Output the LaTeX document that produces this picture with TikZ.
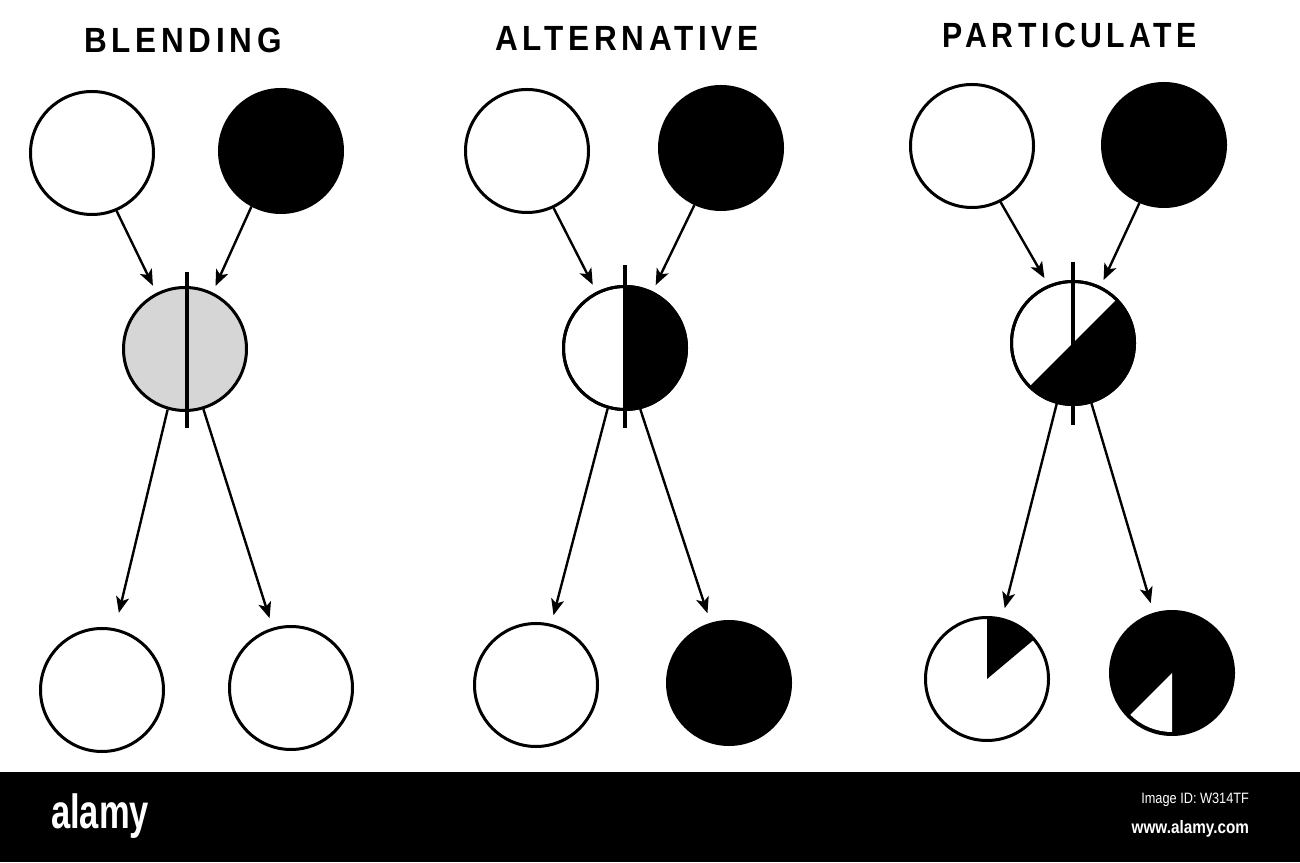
\documentclass[tikz,border=0pt]{standalone}
\usepackage{fontspec}
\usetikzlibrary{arrows.meta,calc}
\newfontfamily\titlefont[LetterSpace=15]{Liberation Sans}
\newfontfamily\wmfont{Liberation Sans}
\begin{document}
\begin{tikzpicture}[x=1pt,y=1pt,
  disc/.style={circle,draw=black,line width=3pt,minimum size=123pt,inner sep=0pt,fill=white},
  bdisc/.style={disc,fill=black},
  gdisc/.style={disc,fill=black!16},
  arr/.style={line width=2.4pt,-{Stealth[length=16pt,width=13pt,inset=4pt]}},
  vline/.style={line width=3.5pt},
  ttl/.style={font=\titlefont\bfseries\fontsize{35}{40}\selectfont,xscale=0.9},
]
\useasboundingbox (0,0) rectangle (1300,862);
\fill[white] (0,0) rectangle (1300,862);

% titles
\node[ttl] (t1) at (183,822) {BLENDING};
\node[ttl] (t2) at (627,824) {ALTERNATIVE};
\node[ttl,xscale=0.96] (t3) at (1070,827) {PARTICULATE};

% ---------- BLENDING ----------
\node[disc]  (btl) at (92,709) {};
\node[bdisc] (btr) at (281,711) {};
\node[gdisc] (bmid) at (185,513) {};
\node[disc]  (bbl) at (102,172) {};
\node[disc]  (bbr) at (291,174) {};
\draw[vline] ($(bmid.center)+(2,77)$) -- ($(bmid.center)+(2,-79)$);
\draw[arr,shorten >=8pt] (btl.-67) -- (bmid.117);
\draw[arr,shorten >=7pt] (btr.-118) -- (bmid.64);
\draw[arr,shorten >=16pt] (bmid.-106) -- (bbl.78);
\draw[arr,shorten >=10pt] (bmid.-73) -- (bbr.107);

% ---------- ALTERNATIVE ----------
\node[disc]  (atl) at (527,711) {};
\node[bdisc] (atr) at (721,714) {};
\node[disc]  (amid) at (625,514) {};
\node[disc]  (abl) at (536,177) {};
\node[bdisc] (abr) at (729,179) {};
\fill (amid.center) -- ++(0,61.5) arc[start angle=90,end angle=-90,radius=61.5] -- cycle;
\draw[line width=3pt] (amid.center) circle[radius=61.5];
\draw[vline] ($(amid.center)+(0,83)$) -- ($(amid.center)+(0,-80)$);
\draw[arr,shorten >=8pt] (atl.-65) -- (amid.117);
\draw[arr,shorten >=7pt] (atr.-115) -- (amid.64);
\draw[arr,shorten >=9pt] (amid.-106) -- (abl.76);
\draw[arr,shorten >=10pt] (amid.-76) -- (abr.107);

% ---------- PARTICULATE ----------
\node[disc]  (ptl) at (972,716) {};
\node[bdisc] (ptr) at (1164,717) {};
\node[disc]  (pmid) at (1073,519) {};
\node[disc]  (pbl) at (987,183) {};
\node[bdisc] (pbr) at (1172,189) {};
\fill (pmid.center) -- ++(45:61.5) arc[start angle=45,end angle=-135,radius=61.5] -- cycle;
\draw[line width=3pt] (pmid.center) circle[radius=61.5];
\draw[vline] ($(pmid.center)+(0,81)$) -- ($(pmid.center)+(0,-82)$);
\fill (pbl.center) -- ++(40:61.5) arc[start angle=40,end angle=90,radius=61.5] -- cycle;
\fill[white] (pbr.center) -- ++(225:59) arc[start angle=225,end angle=270,radius=59] -- cycle;
\draw[arr,shorten >=8pt] (ptl.-63) -- (pmid.113);
\draw[arr,shorten >=7pt] (ptr.-113) -- (pmid.64);
\draw[arr,shorten >=10pt] (pmid.-105) -- (pbl.76);
\draw[arr,shorten >=10pt] (pmid.-73) -- (pbr.107);

% ---------- footer bar ----------
\fill[black] (0,0) rectangle (1300,90);
\node[text=white,font=\wmfont\bfseries\fontsize{48}{48}\selectfont,xscale=0.72] (logo) at (100,46) {alamy};
\node[text=white,anchor=east,font=\wmfont\fontsize{15}{15}\selectfont,xscale=0.85] (iid) at (1252,62) {Image ID: W314TF};
\node[text=white,anchor=east,font=\wmfont\bfseries\fontsize{18}{18}\selectfont,xscale=0.85] (url) at (1252,33) {www.alamy.com};
\end{tikzpicture}
\end{document}
